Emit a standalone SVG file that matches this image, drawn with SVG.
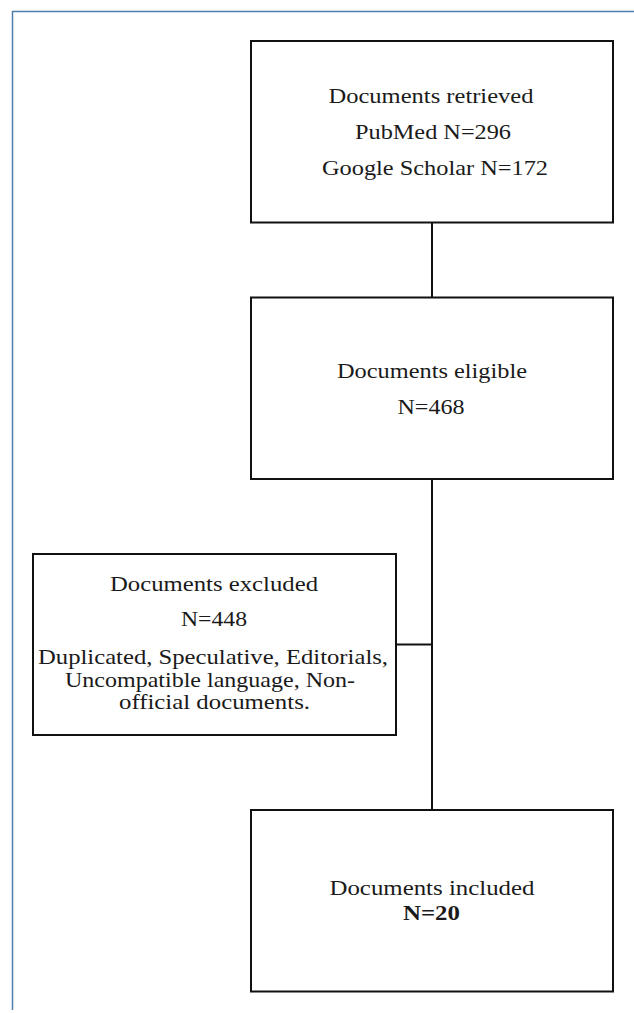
<svg xmlns="http://www.w3.org/2000/svg" width="634" height="1013" viewBox="0 0 634 1013">
<style>
.box{fill:#fff;stroke:#111;stroke-width:2}
.t{font-size:21px;fill:#1a1a1a;text-anchor:middle}
.b{font-weight:bold}
.c{stroke:#111;stroke-width:2;fill:none}
</style>
<rect width="634" height="1013" fill="#fff"/>
<path d="M12.5 1010 V11.5 H634" fill="none" stroke="#4f7eac" stroke-width="1.5"/>
<g id="connectors">
<line class="c" x1="432" y1="222" x2="432" y2="297"/>
<line class="c" x1="432" y1="479" x2="432" y2="810"/>
<line class="c" x1="396" y1="644.5" x2="432" y2="644.5"/>
</g>
<g font-family="Liberation Serif, Times New Roman, serif">
<g id="retrieved">
<rect class="box" x="251" y="41" width="362" height="181.5"/>
<text class="t" x="431" y="103" textLength="205" lengthAdjust="spacingAndGlyphs">Documents retrieved</text>
<text class="t" x="433" y="139" textLength="156" lengthAdjust="spacingAndGlyphs">PubMed N=296</text>
<text class="t" x="435" y="175" textLength="226" lengthAdjust="spacingAndGlyphs">Google Scholar N=172</text>
</g>
<g id="eligible">
<rect class="box" x="251" y="297.5" width="362" height="181.5"/>
<text class="t" x="432" y="378" textLength="190" lengthAdjust="spacingAndGlyphs">Documents eligible</text>
<text class="t" x="431" y="414" textLength="67" lengthAdjust="spacingAndGlyphs">N=468</text>
</g>
<g id="excluded">
<rect class="box" x="33" y="554" width="363" height="181"/>
<text class="t" x="214" y="590.5" textLength="208" lengthAdjust="spacingAndGlyphs">Documents excluded</text>
<text class="t" x="214" y="625.5" textLength="66" lengthAdjust="spacingAndGlyphs">N=448</text>
<text class="t" x="213" y="664" textLength="350" lengthAdjust="spacingAndGlyphs">Duplicated, Speculative, Editorials,</text>
<text class="t" x="210" y="686.5" textLength="290" lengthAdjust="spacingAndGlyphs">Uncompatible language, Non-</text>
<text class="t" x="214.5" y="709" textLength="191" lengthAdjust="spacingAndGlyphs">official documents.</text>
</g>
<g id="included">
<rect class="box" x="251" y="810" width="362" height="181.5"/>
<text class="t" x="432" y="895" textLength="205" lengthAdjust="spacingAndGlyphs">Documents included</text>
<text class="t b" x="431.5" y="920" textLength="57" lengthAdjust="spacingAndGlyphs">N=20</text>
</g>
</g>
</svg>
